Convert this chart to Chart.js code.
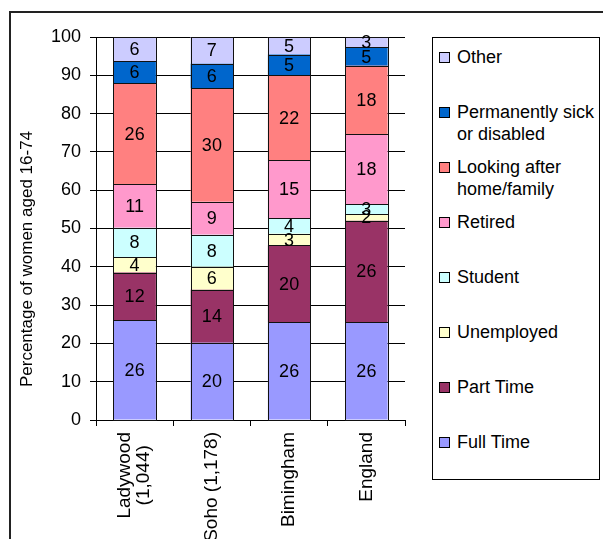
<!DOCTYPE html>
<html>
<head>
<meta charset="utf-8">
<script src="https://cdn.jsdelivr.net/npm/chart.js@4.4.1/dist/chart.umd.min.js"></script>
<style>
  html, body { margin: 0; padding: 0; background: #fff; overflow: hidden; width: 603px; height: 539px; }
  #frame { position: absolute; left: 9px; top: 11px; width: 700px; height: 700px; border: 2px solid #222; box-sizing: border-box; }
  #wrap { position: absolute; left: 0; top: 0; width: 420px; height: 570px; }
  #legend { position: absolute; left: 432px; top: 37px; width: 168px; height: 443px; border: 1px solid #000; box-sizing: border-box; padding-top: 8px;
            font-family: 'Liberation Sans', Arial, sans-serif; font-size: 18px; color: #000; }
  .item { height: 55px; display: flex; align-items: flex-start; }
  .box { width: 9px; height: 9px; border: 1px solid #000; margin: 6px 7px 0 6px; flex: none; }
  .txt { line-height: 22px; white-space: pre-line; }
</style>
</head>
<body>
<div id="frame"></div>
<div id="wrap"><canvas id="chartTrabajo" width="420" height="570"></canvas></div>
<div id="legend"></div>
<script>
const categorias = [['Ladywood', '(1,044)'], 'Soho (1,178)', 'Bimingham', 'England'];

const fullTime     = [26.1, 20.2, 25.5, 25.6];
const partTime     = [12.4, 13.8, 20.1, 26.4];
const unemployed   = [4.0, 6.0, 3.0, 1.8];
const student      = [7.7, 8.4, 4.1, 2.6];
const retired      = [11.3, 8.6, 15.1, 18.2];
const lookingAfter = [26.4, 29.6, 22.2, 17.9];
const sick         = [5.8, 6.4, 5.4, 4.8];
const other        = [6.3, 7.0, 4.6, 2.7];

const yTicks = [0, 10, 20, 30, 40, 50, 60, 70, 80, 90, 100];

const series = [
    { label: 'Full Time', data: fullTime, color: '#9999FF' },
    { label: 'Part Time', data: partTime, color: '#993366' },
    { label: 'Unemployed', data: unemployed, color: '#FFFFCC' },
    { label: 'Student', data: student, color: '#CCFFFF' },
    { label: 'Retired', data: retired, color: '#FF99CC' },
    { label: 'Looking after\nhome/family', data: lookingAfter, color: '#FF8080' },
    { label: 'Permanently sick\nor disabled', data: sick, color: '#0066CC' },
    { label: 'Other', data: other, color: '#CCCCFF' }
]

const fuente = "'Liberation Sans', Arial, sans-serif"
Chart.defaults.font.family = fuente
Chart.defaults.color = '#000'

// crisp outline round each segment, then its number in the middle
const etiquetas = {
    id: 'etiquetas',
    afterDatasetsDraw(chart) {
        const ctx = chart.ctx
        ctx.save()
        ctx.strokeStyle = '#111'
        ctx.lineWidth = 1
        chart.data.datasets.forEach((ds, i) => {
            chart.getDatasetMeta(i).data.forEach(bar => {
                const x0 = Math.round(bar.x - bar.width / 2) + 0.5
                const x1 = Math.round(bar.x + bar.width / 2) + 0.5
                const y0 = Math.round(bar.y) + 0.5
                const y1 = Math.round(bar.base) + 0.5
                ctx.strokeRect(x0, y0, x1 - x0, y1 - y0)
            })
        })
        ctx.font = `18px ${fuente}`
        ctx.fillStyle = '#000'
        ctx.textAlign = 'center'
        ctx.textBaseline = 'middle'
        chart.data.datasets.forEach((ds, i) => {
            chart.getDatasetMeta(i).data.forEach((bar, j) => {
                ctx.fillText(Math.round(ds.data[j]), bar.x, (bar.y + bar.base) / 2 + 1)
            })
        })
        ctx.restore()
    }
}

// y axis title, drawn a bit lower than the axis centre
const tituloY = {
    id: 'tituloY',
    afterDraw(chart) {
        const ctx = chart.ctx
        ctx.save()
        ctx.font = `17px ${fuente}`
        ctx.fillStyle = '#000'
        ctx.textAlign = 'center'
        ctx.textBaseline = 'middle'
        ctx.translate(27, 259)
        ctx.rotate(-Math.PI / 2)
        ctx.fillText('Percentage of women aged 16-74', 0, 0)
        ctx.restore()
    }
}

// category names turned upright, lines of a two-line name centred on each other
const nombresX = {
    id: 'nombresX',
    afterDraw(chart) {
        const ctx = chart.ctx
        const xScale = chart.scales.x
        const lineH = 19
        ctx.save()
        ctx.font = `19px ${fuente}`
        ctx.fillStyle = '#000'
        ctx.textAlign = 'center'
        ctx.textBaseline = 'middle'
        categorias.forEach((cat, i) => {
            const lineas = Array.isArray(cat) ? cat : [cat]
            const ancho = Math.max(...lineas.map(l => ctx.measureText(l).width))
            const x = xScale.getPixelForTick(i)
            const y = xScale.top + 12 + ancho / 2
            lineas.forEach((l, k) => {
                ctx.save()
                ctx.translate(x + (k - (lineas.length - 1) / 2) * lineH, y)
                ctx.rotate(-Math.PI / 2)
                ctx.fillText(l, 0, 0)
                ctx.restore()
            })
        })
        ctx.restore()
    }
}

const canvas = document.getElementById('chartTrabajo')
const chartTrabajo = new Chart(canvas.getContext('2d'), {
    type: 'bar',
    data: {
        labels: categorias,
        datasets: series.map(s => ({
            label: s.label,
            data: s.data,
            backgroundColor: s.color,
            borderWidth: 0,
            categoryPercentage: 1,
            barPercentage: 0.55
        }))
    },
    options: {
        responsive: false,
        animation: false,
        devicePixelRatio: 1,
        layout: { padding: { top: 37, right: 15, left: 0, bottom: 0 } },
        plugins: { legend: { display: false }, tooltip: { enabled: false } },
        scales: {
            x: {
                stacked: true,
                grid: { drawOnChartArea: false, color: '#000', tickLength: 6, offset: true },
                border: { color: '#000' },
                ticks: { display: false },
                afterFit: (scale) => { scale.height = 150 }
            },
            y: {
                stacked: true,
                min: 0,
                max: 100,
                afterBuildTicks: (scale) => { scale.ticks = yTicks.map(v => ({ value: v })) },
                grid: { color: '#000', tickLength: 6 },
                border: { color: '#000' },
                ticks: { font: { size: 18 }, padding: 9 },
                afterFit: (scale) => { scale.width = 96 }
            }
        }
    },
    plugins: [etiquetas, tituloY, nombresX]
})

// legend, top entry first
const legend = document.getElementById('legend')
series.slice().reverse().forEach(s => {
    const item = document.createElement('div')
    item.className = 'item'
    item.innerHTML = `<span class="box" style="background:${s.color}"></span><span class="txt"></span>`
    item.querySelector('.txt').textContent = s.label
    legend.appendChild(item)
})
</script>
</body>
</html>
